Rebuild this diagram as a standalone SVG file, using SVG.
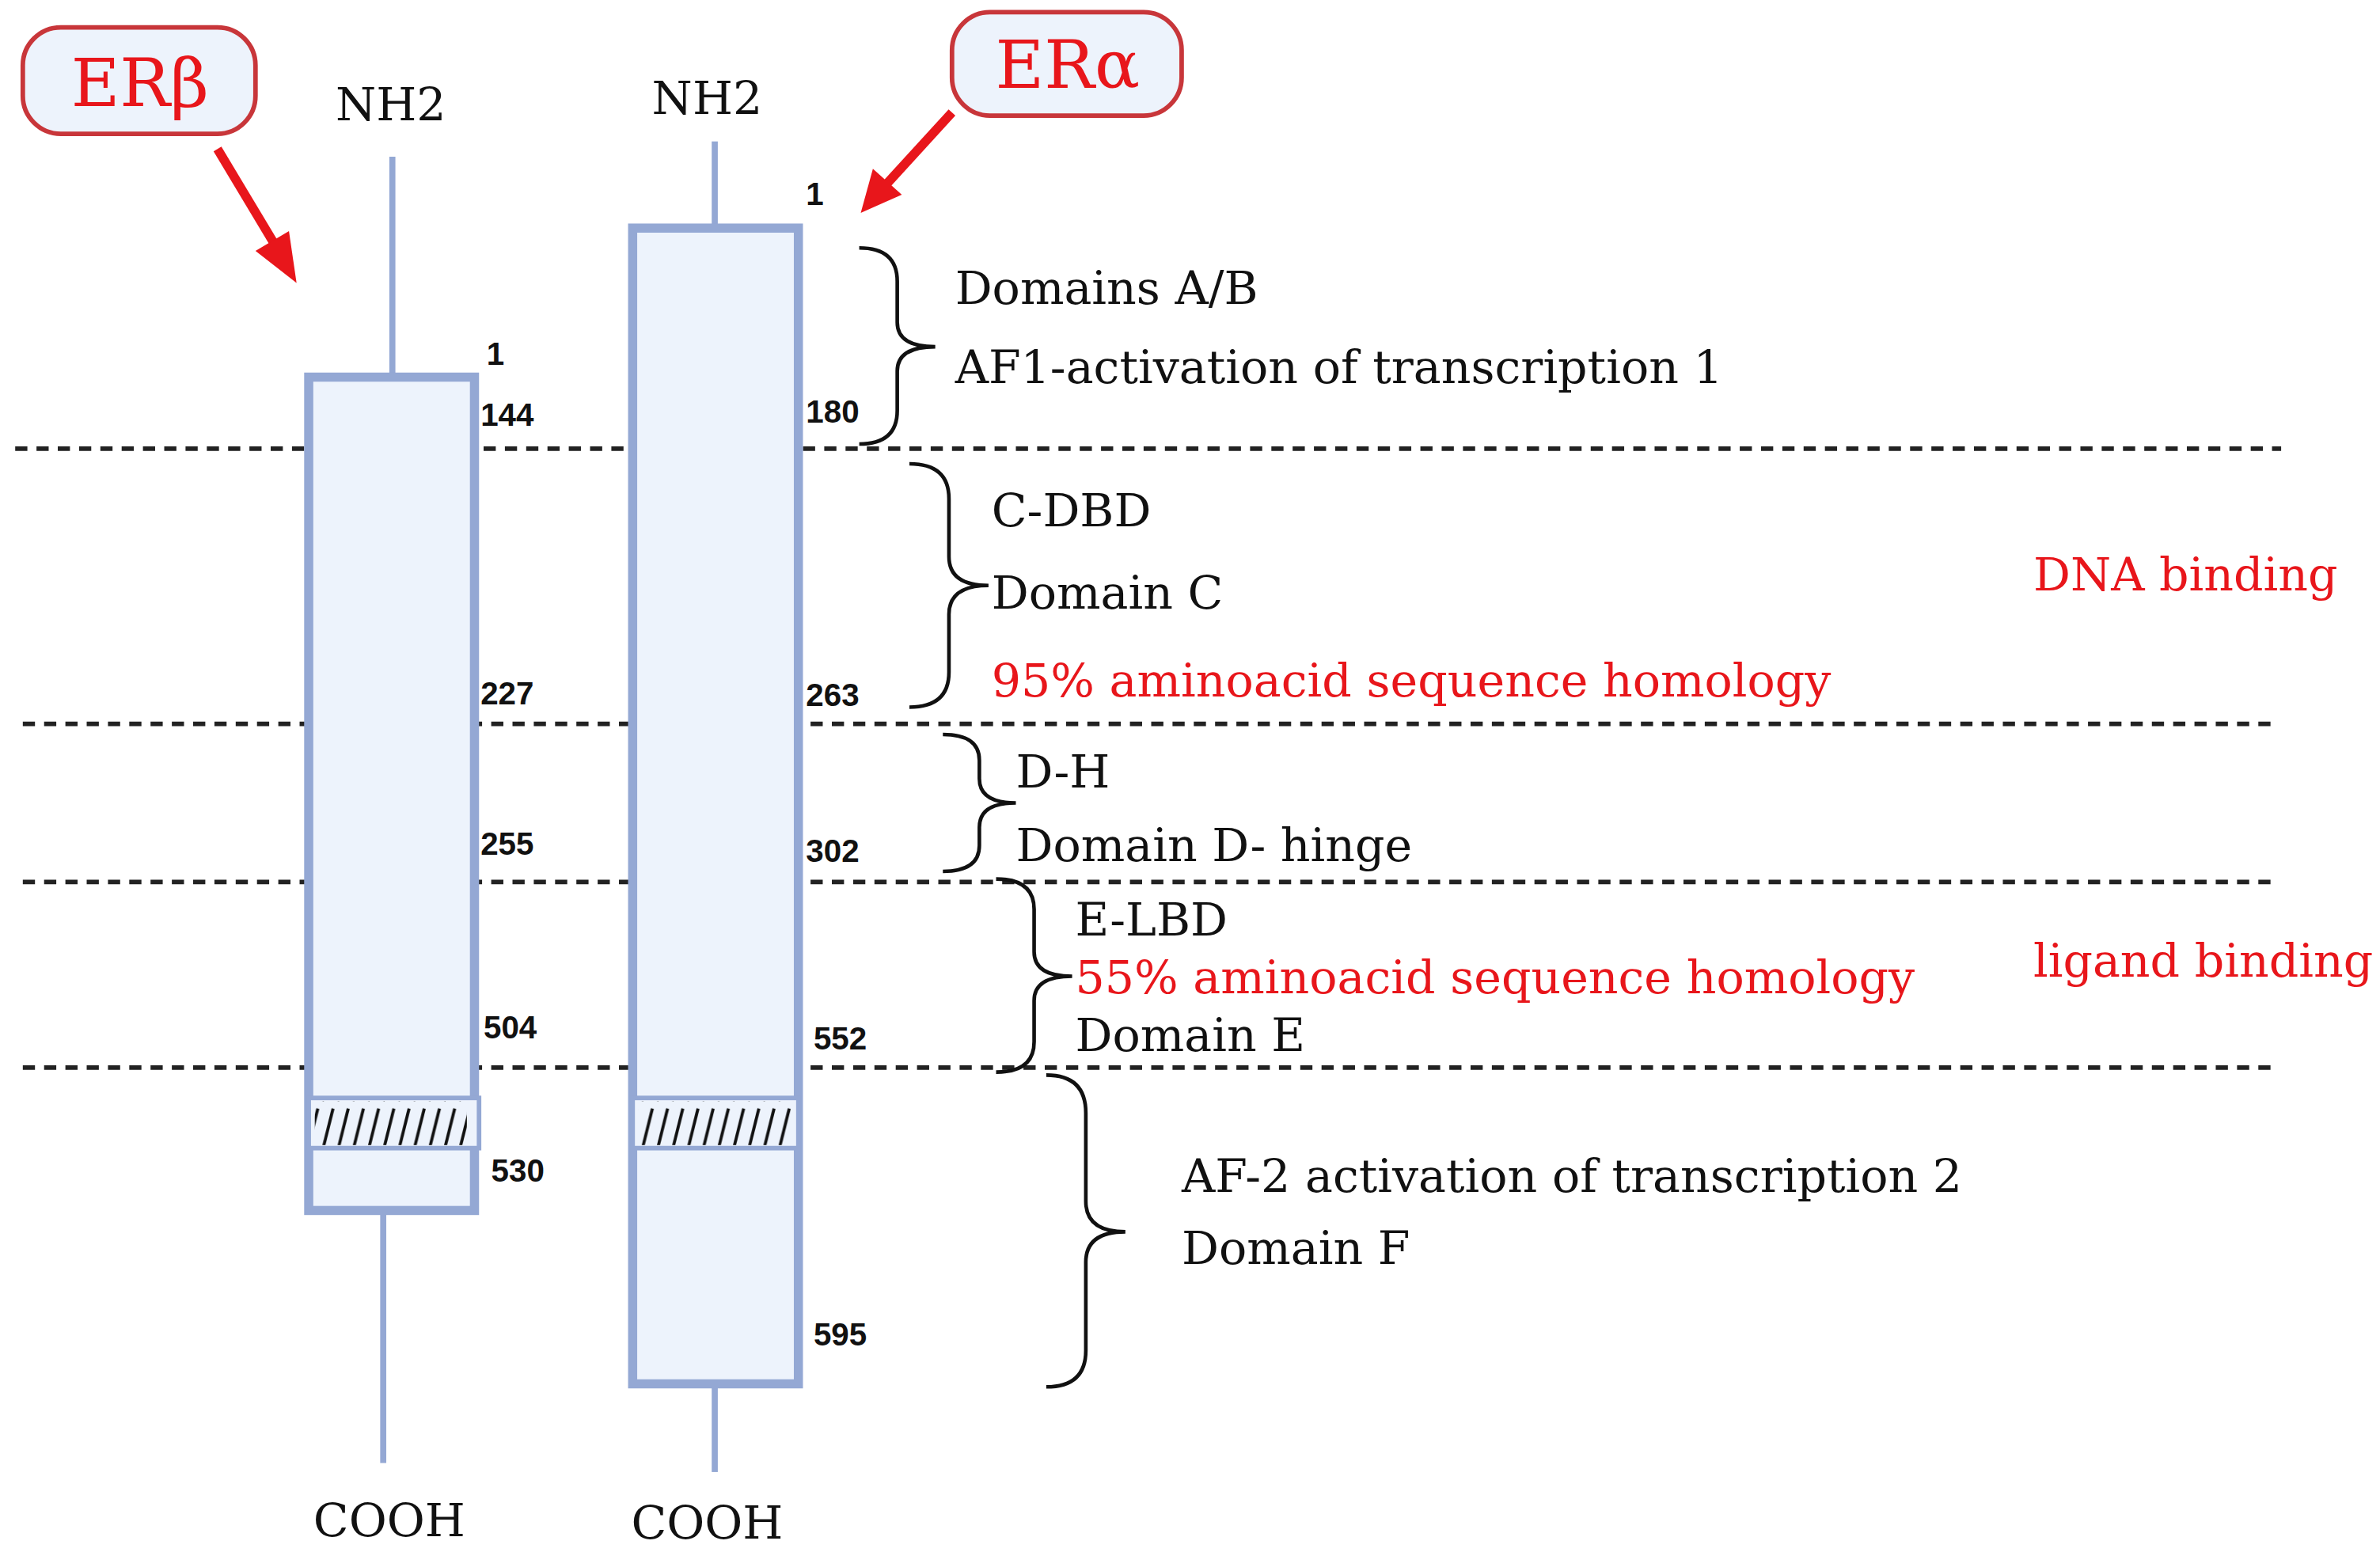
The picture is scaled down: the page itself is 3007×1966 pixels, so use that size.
<svg xmlns="http://www.w3.org/2000/svg" width="3007" height="1966" viewBox="0 0 3007 1966">
<style>
.lbl{font-family:"DejaVu Serif","Liberation Serif",serif;font-size:30.5px;fill:#111}
.red{fill:#e8161b}
.num{font-family:"Liberation Sans",Arial,sans-serif;font-weight:bold;font-size:21px;fill:#111}
.dash{stroke:#222;stroke-width:3;stroke-dasharray:8,6;fill:none}
.brace{stroke:#111;stroke-width:2.4;fill:none}
.stem{stroke:#94a8d4;stroke-width:4}
.box{fill:#edf3fc;stroke:#94a8d4;stroke-width:6}
.band{fill:#edf3fc;stroke:#94a8d4;stroke-width:3}
.tag{fill:#edf3fc;stroke:#c8363a;stroke-width:3}
.tagt{font-family:"DejaVu Serif","Liberation Serif",serif;font-size:44px;fill:#e8161b;text-anchor:middle}
.arr{stroke:#e8161b;stroke-width:6;fill:none}
</style>
<defs>
<pattern id="hatch" width="10" height="33" patternUnits="userSpaceOnUse">
<line x1="2" y1="31" x2="9" y2="3" stroke="#111" stroke-width="2"/>
</pattern>
</defs>
<rect width="3007" height="1966" fill="#fff"/>
<g transform="scale(1.9214)">
<g id="connectors">
<line class="dash" x1="10" y1="295" x2="1500" y2="295"/>
<line class="dash" x1="15" y1="476" x2="1498" y2="476"/>
<line class="dash" x1="15" y1="580" x2="1498" y2="580"/>
<line class="dash" x1="15" y1="702" x2="1495" y2="702"/>
<line class="arr" x1="143" y1="98" x2="182" y2="163"/>
<polygon points="195,186 168,165 190,152" fill="#e8161b"/>
<line class="arr" x1="626" y1="74" x2="583" y2="121"/>
<polygon points="566,140 574,111 593,128" fill="#e8161b"/>
</g>
<g id="erb-tag"><rect class="tag" x="15" y="18" width="153" height="70" rx="25"/><text class="tagt" x="92" y="70">ERβ</text></g>
<g id="era-tag"><rect class="tag" x="626" y="8" width="151" height="68" rx="25"/><text class="tagt" x="702" y="58">ERα</text></g>
<g id="erb">
<text class="lbl" x="257" y="79" text-anchor="middle" font-size="27">NH2</text>
<line class="stem" x1="258" y1="103" x2="258" y2="248"/>
<line class="stem" x1="252" y1="796" x2="252" y2="962"/>
<rect class="box" x="203" y="248" width="109" height="548"/>
<rect class="band" x="203" y="722" width="112" height="33"/>
<rect x="207" y="724" width="100" height="29" fill="url(#hatch)"/>
<text class="lbl" x="256" y="1010" text-anchor="middle" font-size="27">COOH</text>
<text class="num" x="320" y="240">1</text>
<text class="num" x="316" y="280">144</text>
<text class="num" x="316" y="463">227</text>
<text class="num" x="316" y="562">255</text>
<text class="num" x="318" y="683">504</text>
<text class="num" x="323" y="777">530</text>
</g>
<g id="era">
<text class="lbl" x="465" y="75" text-anchor="middle" font-size="27">NH2</text>
<line class="stem" x1="470" y1="93" x2="470" y2="150"/>
<line class="stem" x1="470" y1="910" x2="470" y2="968"/>
<rect class="box" x="416" y="150" width="109" height="760"/>
<rect class="band" x="416" y="722" width="109" height="33"/>
<rect x="420" y="724" width="100" height="29" fill="url(#hatch)"/>
<text class="lbl" x="465" y="1012" text-anchor="middle" font-size="27">COOH</text>
<text class="num" x="530" y="135">1</text>
<text class="num" x="530" y="278">180</text>
<text class="num" x="530" y="464">263</text>
<text class="num" x="530" y="567">302</text>
<text class="num" x="535" y="690">552</text>
<text class="num" x="535" y="885">595</text>
</g>
<g id="domains">
<path class="brace" d="M565,163 Q590,163 590,185 L590,212 Q590,228 615,228 Q590,228 590,244 L590,270 Q590,292 565,292"/>
<text class="lbl" x="628" y="200">Domains A/B</text>
<text class="lbl" x="628" y="252">AF1-activation of transcription 1</text>
<path class="brace" d="M598,305 Q624,305 624,328 L624,366 Q624,385 650,385 Q624,385 624,404 L624,442 Q624,465 598,465"/>
<text class="lbl" x="652" y="346">C-DBD</text>
<text class="lbl" x="652" y="400">Domain C</text>
<text class="lbl red" x="652" y="458">95% aminoacid sequence homology</text>
<text class="lbl red" x="1337" y="388">DNA binding</text>
<path class="brace" d="M620,483 Q644,483 644,500 L644,512 Q644,528 668,528 Q644,528 644,544 L644,556 Q644,573 620,573"/>
<text class="lbl" x="668" y="518">D-H</text>
<text class="lbl" x="668" y="566">Domain D- hinge</text>
<path class="brace" d="M655,578 Q680,578 680,598 L680,626 Q680,642 705,642 Q680,642 680,658 L680,685 Q680,705 655,705"/>
<text class="lbl" x="707" y="615">E-LBD</text>
<text class="lbl red" x="707" y="653">55% aminoacid sequence homology</text>
<text class="lbl" x="707" y="691">Domain E</text>
<text class="lbl red" x="1337" y="642">ligand binding</text>
<path class="brace" d="M688,707 Q714,707 714,732 L714,790 Q714,810 740,810 Q714,810 714,830 L714,888 Q714,912 688,912"/>
<text class="lbl" x="777" y="784">AF-2 activation of transcription 2</text>
<text class="lbl" x="777" y="831">Domain F</text>
</g>
</g>
</svg>
